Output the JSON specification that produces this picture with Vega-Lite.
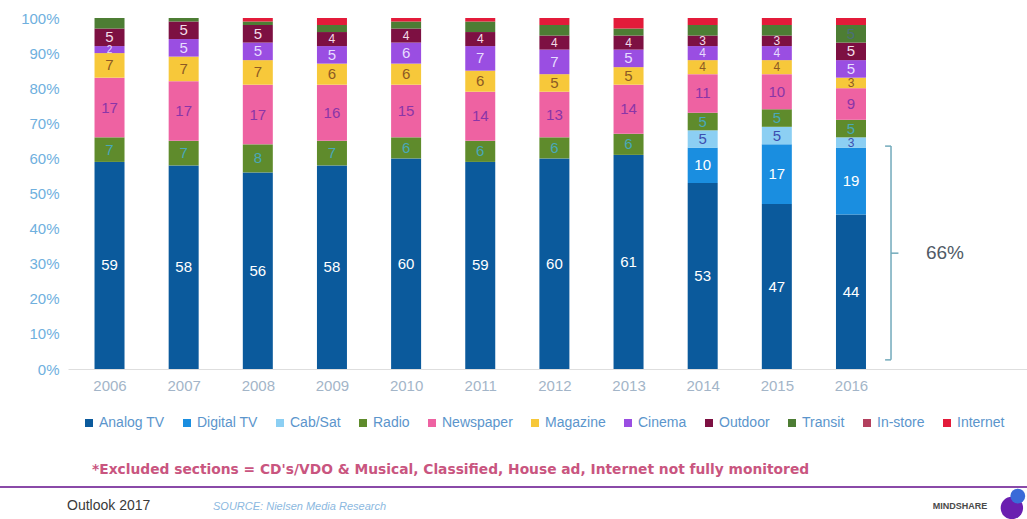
{
  "$schema": "https://vega.github.io/schema/vega-lite/v6.json",
  "autosize": {"type": "none"},
  "padding": {"left": 68, "top": 18, "right": 0, "bottom": 150},
  "width": 959,
  "height": 351,
  "background": "#ffffff",
  "config": {
    "view": {"stroke": null},
    "font": "Liberation Sans"
  },
  "datasets": {
    "shares": [
      {"year": 2006, "series": "Analog TV", "value": 59},
      {"year": 2006, "series": "Radio", "value": 7},
      {"year": 2006, "series": "Newspaper", "value": 17},
      {"year": 2006, "series": "Magazine", "value": 7},
      {"year": 2006, "series": "Cinema", "value": 2},
      {"year": 2006, "series": "Outdoor", "value": 5},
      {"year": 2006, "series": "Transit", "value": 3},
      {"year": 2007, "series": "Analog TV", "value": 58},
      {"year": 2007, "series": "Radio", "value": 7},
      {"year": 2007, "series": "Newspaper", "value": 17},
      {"year": 2007, "series": "Magazine", "value": 7},
      {"year": 2007, "series": "Cinema", "value": 5},
      {"year": 2007, "series": "Outdoor", "value": 5},
      {"year": 2007, "series": "Transit", "value": 1},
      {"year": 2008, "series": "Analog TV", "value": 56},
      {"year": 2008, "series": "Radio", "value": 8},
      {"year": 2008, "series": "Newspaper", "value": 17},
      {"year": 2008, "series": "Magazine", "value": 7},
      {"year": 2008, "series": "Cinema", "value": 5},
      {"year": 2008, "series": "Outdoor", "value": 5},
      {"year": 2008, "series": "Transit", "value": 1},
      {"year": 2008, "series": "Internet", "value": 1},
      {"year": 2009, "series": "Analog TV", "value": 58},
      {"year": 2009, "series": "Radio", "value": 7},
      {"year": 2009, "series": "Newspaper", "value": 16},
      {"year": 2009, "series": "Magazine", "value": 6},
      {"year": 2009, "series": "Cinema", "value": 5},
      {"year": 2009, "series": "Outdoor", "value": 4},
      {"year": 2009, "series": "Transit", "value": 2},
      {"year": 2009, "series": "Internet", "value": 2},
      {"year": 2010, "series": "Analog TV", "value": 60},
      {"year": 2010, "series": "Radio", "value": 6},
      {"year": 2010, "series": "Newspaper", "value": 15},
      {"year": 2010, "series": "Magazine", "value": 6},
      {"year": 2010, "series": "Cinema", "value": 6},
      {"year": 2010, "series": "Outdoor", "value": 4},
      {"year": 2010, "series": "Transit", "value": 2},
      {"year": 2010, "series": "Internet", "value": 1},
      {"year": 2011, "series": "Analog TV", "value": 59},
      {"year": 2011, "series": "Radio", "value": 6},
      {"year": 2011, "series": "Newspaper", "value": 14},
      {"year": 2011, "series": "Magazine", "value": 6},
      {"year": 2011, "series": "Cinema", "value": 7},
      {"year": 2011, "series": "Outdoor", "value": 4},
      {"year": 2011, "series": "Transit", "value": 3},
      {"year": 2011, "series": "Internet", "value": 1},
      {"year": 2012, "series": "Analog TV", "value": 60},
      {"year": 2012, "series": "Radio", "value": 6},
      {"year": 2012, "series": "Newspaper", "value": 13},
      {"year": 2012, "series": "Magazine", "value": 5},
      {"year": 2012, "series": "Cinema", "value": 7},
      {"year": 2012, "series": "Outdoor", "value": 4},
      {"year": 2012, "series": "Transit", "value": 3},
      {"year": 2012, "series": "Internet", "value": 2},
      {"year": 2013, "series": "Analog TV", "value": 61},
      {"year": 2013, "series": "Radio", "value": 6},
      {"year": 2013, "series": "Newspaper", "value": 14},
      {"year": 2013, "series": "Magazine", "value": 5},
      {"year": 2013, "series": "Cinema", "value": 5},
      {"year": 2013, "series": "Outdoor", "value": 4},
      {"year": 2013, "series": "Transit", "value": 2},
      {"year": 2013, "series": "Internet", "value": 3},
      {"year": 2014, "series": "Analog TV", "value": 53},
      {"year": 2014, "series": "Digital TV", "value": 10},
      {"year": 2014, "series": "Cab/Sat", "value": 5},
      {"year": 2014, "series": "Radio", "value": 5},
      {"year": 2014, "series": "Newspaper", "value": 11},
      {"year": 2014, "series": "Magazine", "value": 4},
      {"year": 2014, "series": "Cinema", "value": 4},
      {"year": 2014, "series": "Outdoor", "value": 3},
      {"year": 2014, "series": "Transit", "value": 3},
      {"year": 2014, "series": "Internet", "value": 2},
      {"year": 2015, "series": "Analog TV", "value": 47},
      {"year": 2015, "series": "Digital TV", "value": 17},
      {"year": 2015, "series": "Cab/Sat", "value": 5},
      {"year": 2015, "series": "Radio", "value": 5},
      {"year": 2015, "series": "Newspaper", "value": 10},
      {"year": 2015, "series": "Magazine", "value": 4},
      {"year": 2015, "series": "Cinema", "value": 4},
      {"year": 2015, "series": "Outdoor", "value": 3},
      {"year": 2015, "series": "Transit", "value": 3},
      {"year": 2015, "series": "Internet", "value": 2},
      {"year": 2016, "series": "Analog TV", "value": 44},
      {"year": 2016, "series": "Digital TV", "value": 19},
      {"year": 2016, "series": "Cab/Sat", "value": 3},
      {"year": 2016, "series": "Radio", "value": 5},
      {"year": 2016, "series": "Newspaper", "value": 9},
      {"year": 2016, "series": "Magazine", "value": 3},
      {"year": 2016, "series": "Cinema", "value": 5},
      {"year": 2016, "series": "Outdoor", "value": 5},
      {"year": 2016, "series": "Transit", "value": 5},
      {"year": 2016, "series": "Internet", "value": 2}
    ],
    "one": [{"k": 1}]
  },
  "resolve": {"axis": {"x": "independent", "y": "independent"}},
  "layer": [
    {
      "data": {"name": "shares"},
      "transform": [
        {"calculate": "indexof(['Analog TV','Digital TV','Cab/Sat','Radio','Newspaper','Magazine','Cinema','Outdoor','Transit','In-store','Internet'], datum.series)", "as": "ord"},
        {"stack": "value", "groupby": ["year"], "sort": [{"field": "ord", "order": "ascending"}], "as": ["v0", "v1"]},
        {"calculate": "(datum.v0 + datum.v1) / 2", "as": "mid"}
      ],
      "layer": [
        {
          "mark": {"type": "bar", "size": 30},
          "encoding": {
            "x": {
              "field": "year", "type": "quantitative",
              "scale": {"domain": [2005.44, 2018.374], "nice": false, "zero": false, "padding": 0},
              "axis": {
                "title": null, "values": [2006, 2007, 2008, 2009, 2010, 2011, 2012, 2013, 2014, 2015, 2016],
                "format": "d", "grid": false, "ticks": false, "domainColor": "#dedede", "domainWidth": 1,
                "labelColor": "#a3b5c8", "labelFontSize": 15, "labelPadding": 9, "labelFlush": false, "labelOverlap": false
              }
            },
            "y": {
              "field": "v0", "type": "quantitative",
              "scale": {"domain": [0, 100], "nice": false},
              "axis": {
                "title": null, "values": [0, 10, 20, 30, 40, 50, 60, 70, 80, 90, 100],
                "labelExpr": "datum.value + '%'", "grid": false, "ticks": false, "domain": false,
                "labelColor": "#6fb0de", "labelFontSize": 15, "labelPadding": 9, "labelOverlap": false, "labelFlush": false
              }
            },
            "y2": {"field": "v1"},
            "color": {
              "field": "series", "type": "nominal",
              "scale": {
                "domain": ["Analog TV", "Digital TV", "Cab/Sat", "Radio", "Newspaper", "Magazine", "Cinema", "Outdoor", "Transit", "In-store", "Internet"],
                "range": ["#0b5a9c", "#1a8ee0", "#8ccff3", "#5f8b2c", "#ee62a2", "#f7c83a", "#9a4ee2", "#7d1042", "#4d7d34", "#b3405e", "#e31b3a"]
              },
              "legend": {
                "title": null, "orient": "none", "direction": "horizontal", "columns": 11,
                "legendX": 14, "legendY": 398,
                "symbolType": "square", "symbolSize": 64, "symbolStrokeWidth": 0,
                "labelFontSize": 14, "labelColor": "#5b95cc", "labelOffset": 3, "columnPadding": 15
              }
            }
          }
        },
        {
          "transform": [
            {"filter": "datum.value >= 2 && datum.series != 'Internet' && datum.series != 'In-store' && (datum.series != 'Transit' || datum.value >= 5)"}
          ],
          "mark": {"type": "text", "baseline": "middle", "align": "center"},
          "encoding": {
            "x": {"field": "year", "type": "quantitative", "axis": null},
            "y": {"field": "mid", "type": "quantitative", "axis": null},
            "text": {"field": "value", "type": "quantitative"},
            "size": {"condition": [{"test": "datum.value <= 2", "value": 10}, {"test": "datum.value <= 4", "value": 12}], "value": 15},
            "color": {
              "field": "series", "type": "nominal",
              "scale": {
                "domain": ["Analog TV", "Digital TV", "Cab/Sat", "Radio", "Newspaper", "Magazine", "Cinema", "Outdoor", "Transit"],
                "range": ["#ffffff", "#ffffff", "#3d4fb0", "#49a8b8", "#8a35a8", "#8c5a25", "#e6dcff", "#f2dce8", "#4a6f78"]
              },
              "legend": null
            }
          }
        }
      ],
      "resolve": {"scale": {"color": "independent"}, "axis": {"x": "independent", "y": "independent"}}
    },
    {
      "data": {"name": "one"},
      "mark": {"type": "rule", "color": "#72aabb", "strokeWidth": 1.5},
      "encoding": {"x": {"datum": 2016.54, "axis": null}, "y": {"datum": 63.5, "axis": null}, "y2": {"datum": 2.6}}
    },
    {
      "data": {"name": "one"},
      "mark": {"type": "rule", "color": "#72aabb", "strokeWidth": 1.5},
      "encoding": {"x": {"datum": 2016.46, "axis": null}, "x2": {"datum": 2016.54}, "y": {"datum": 63.5, "axis": null}}
    },
    {
      "data": {"name": "one"},
      "mark": {"type": "rule", "color": "#72aabb", "strokeWidth": 1.5},
      "encoding": {"x": {"datum": 2016.46, "axis": null}, "x2": {"datum": 2016.54}, "y": {"datum": 2.6, "axis": null}}
    },
    {
      "data": {"name": "one"},
      "mark": {"type": "rule", "color": "#72aabb", "strokeWidth": 1.5},
      "encoding": {"x": {"datum": 2016.54, "axis": null}, "x2": {"datum": 2016.64}, "y": {"datum": 33.0, "axis": null}}
    },
    {
      "data": {"name": "one"},
      "mark": {"type": "text", "fontSize": 19, "color": "#505a66", "align": "center", "baseline": "middle", "text": "66%"},
      "encoding": {"x": {"datum": 2017.267, "axis": null}, "y": {"datum": 33.0, "axis": null}}
    },
    {
      "data": {"name": "one"},
      "mark": {"type": "text", "font": "DejaVu Sans", "fontSize": 13.8, "fontWeight": "bold", "color": "#c9557f", "align": "left", "baseline": "middle", "text": "*Excluded sections = CD's/VDO & Musical, Classified, House ad, Internet not fully monitored"},
      "encoding": {"x": {"datum": 2005.764, "axis": null}, "y": {"datum": -28.77, "axis": null}}
    },
    {
      "data": {"name": "one"},
      "mark": {"type": "rule", "color": "#8a4aa8", "strokeWidth": 2},
      "encoding": {"x": {"datum": 2004.523, "axis": null}, "x2": {"datum": 2018.374}, "y": {"datum": -33.62, "axis": null}}
    },
    {
      "data": {"name": "one"},
      "mark": {"type": "text", "fontSize": 14, "color": "#3a3a3a", "align": "left", "baseline": "middle", "text": "Outlook 2017"},
      "encoding": {"x": {"datum": 2005.427, "axis": null}, "y": {"datum": -39.03, "axis": null}}
    },
    {
      "data": {"name": "one"},
      "mark": {"type": "text", "fontSize": 11, "fontStyle": "italic", "color": "#8bb8e0", "align": "left", "baseline": "middle", "text": "SOURCE: Nielsen Media Research"},
      "encoding": {"x": {"datum": 2007.396, "axis": null}, "y": {"datum": -39.3, "axis": null}}
    },
    {
      "data": {"name": "one"},
      "mark": {"type": "text", "fontSize": 9, "fontWeight": "bold", "color": "#4a4a4a", "align": "center", "baseline": "middle", "text": "MINDSHARE"},
      "encoding": {"x": {"datum": 2017.47, "axis": null}, "y": {"datum": -39.03, "axis": null}}
    },
    {
      "data": {"name": "one"},
      "mark": {"type": "point", "filled": true, "shape": "circle", "size": 500, "color": "#6a1fb0", "opacity": 1},
      "encoding": {"x": {"datum": 2018.17, "axis": null}, "y": {"datum": -39.6, "axis": null}}
    },
    {
      "data": {"name": "one"},
      "mark": {"type": "point", "filled": true, "shape": "circle", "size": 220, "color": "#3a6ad8", "opacity": 1},
      "encoding": {"x": {"datum": 2018.25, "axis": null}, "y": {"datum": -36.2, "axis": null}}
    }
  ]
}
